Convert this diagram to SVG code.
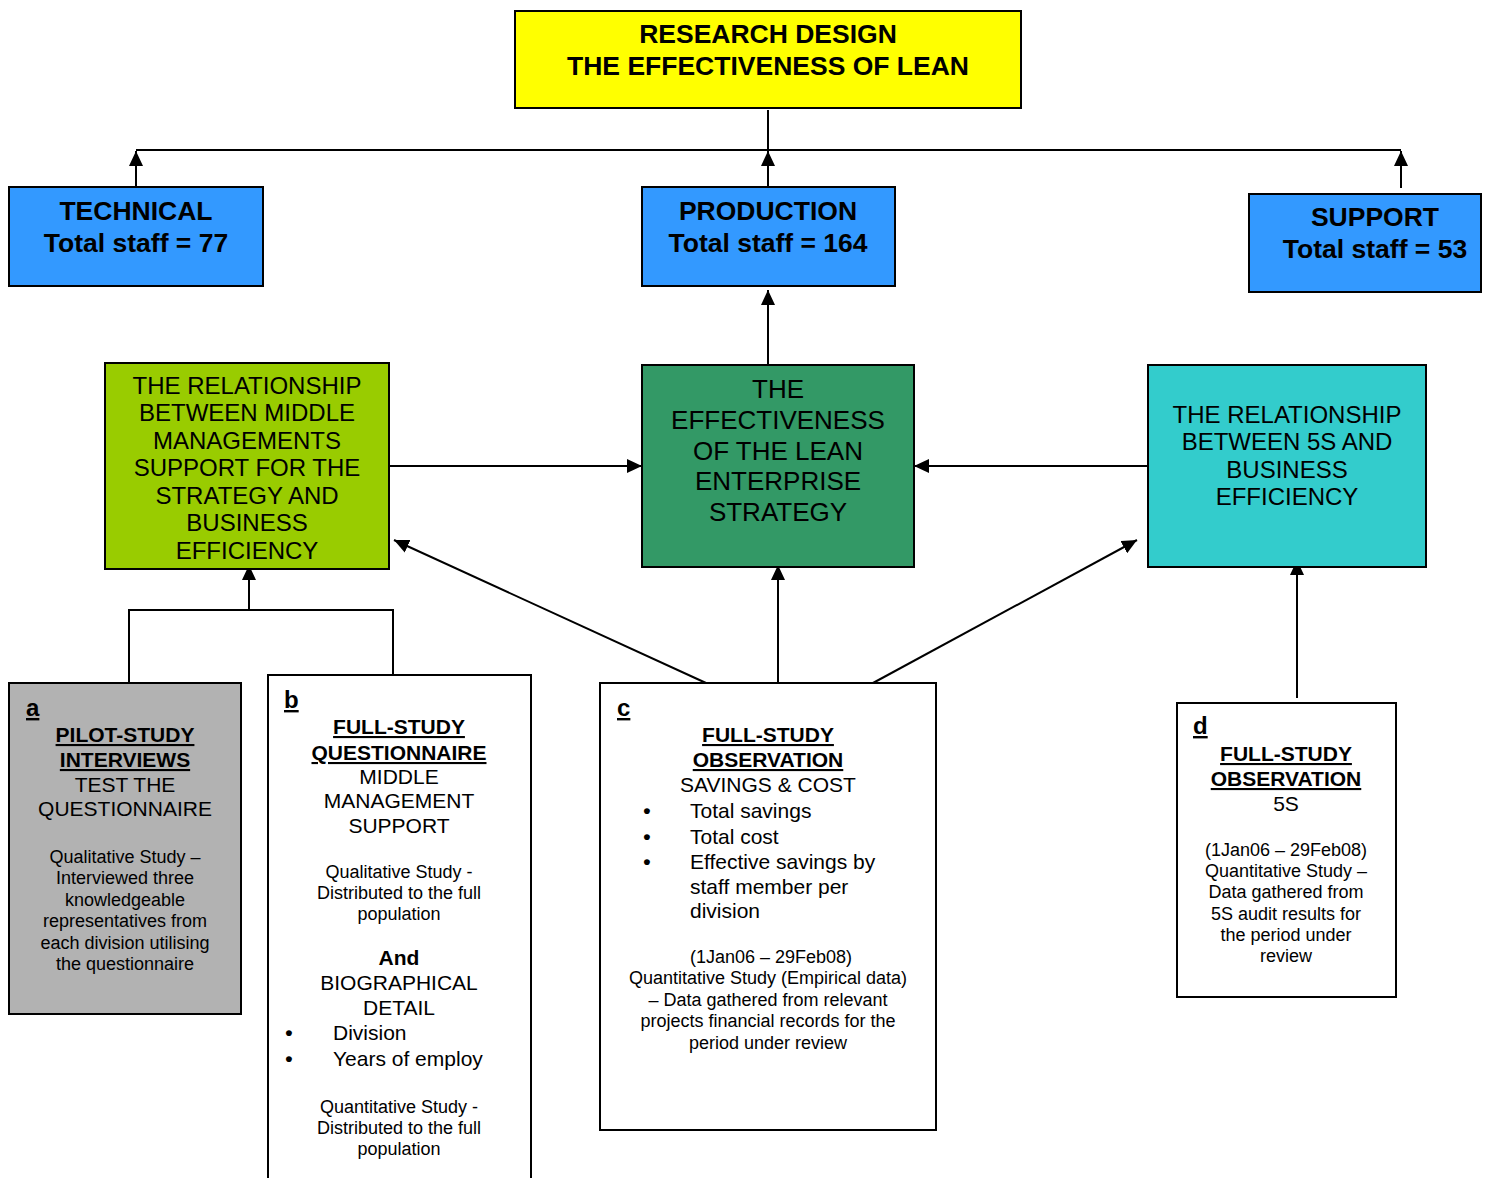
<svg xmlns="http://www.w3.org/2000/svg" width="1490" height="1178" viewBox="0 0 1490 1178">
<style>
text{font-family:"Liberation Sans",Arial,sans-serif;fill:#000;text-anchor:middle}
.box{stroke:#000;stroke-width:2}
.b{font-weight:bold}
.t26{font-size:26.5px;font-weight:bold}
.t24{font-size:24px}
.t26r{font-size:26px}
.t21{font-size:21px}
.t18{font-size:18px}
.lab{font-size:24px;font-weight:bold;text-decoration:underline;text-anchor:start}
.bul{font-size:21px;font-weight:bold;text-anchor:middle}
.u{text-decoration:underline}
.l{text-anchor:start}
.c{fill:none;stroke:#000;stroke-width:2}
</style>
<defs>
<marker id="ah" markerWidth="16" markerHeight="14" refX="15" refY="7" orient="auto" markerUnits="userSpaceOnUse">
<path d="M0,0 L15,7 L0,14 Z" fill="#000"/>
</marker>
</defs>
<rect width="1490" height="1178" fill="#fff"/>
<g id="connectors">
<path class="c" d="M768,110 V150"/>
<path class="c" d="M136,150 H1401"/>
<path class="c" d="M136,187 V151" marker-end="url(#ah)"/>
<path class="c" d="M768,187 V151" marker-end="url(#ah)"/>
<path class="c" d="M1401,188 V151" marker-end="url(#ah)"/>
<path class="c" d="M768,364 V290" marker-end="url(#ah)"/>
<path class="c" d="M390,466 H642" marker-end="url(#ah)"/>
<path class="c" d="M1148,466 H914" marker-end="url(#ah)"/>
<path class="c" d="M249,610 V565" marker-end="url(#ah)"/>
<path class="c" d="M129,683 V610 H393 V684"/>
<path class="c" d="M706,683 L394,540" marker-end="url(#ah)"/>
<path class="c" d="M778,683 V565" marker-end="url(#ah)"/>
<path class="c" d="M873,683 L1137,540" marker-end="url(#ah)"/>
<path class="c" d="M1297,698 V560" marker-end="url(#ah)"/>
</g>
<g id="research-design">
<rect class="box" x="515" y="11" width="506" height="97" fill="#ffff00"/>
<text class="t26" x="768" y="43">RESEARCH DESIGN</text>
<text class="t26" x="768" y="75">THE EFFECTIVENESS OF LEAN</text>
</g>
<g id="technical">
<rect class="box" x="9" y="187" width="254" height="99" fill="#3399ff"/>
<text class="t26" x="136" y="220">TECHNICAL</text>
<text class="t26" x="136" y="252">Total staff = 77</text>
</g>
<g id="production">
<rect class="box" x="642" y="187" width="253" height="99" fill="#3399ff"/>
<text class="t26" x="768" y="220">PRODUCTION</text>
<text class="t26" x="768" y="252">Total staff = 164</text>
</g>
<g id="support">
<rect class="box" x="1249" y="194" width="232" height="98" fill="#3399ff"/>
<text class="t26" x="1375" y="226">SUPPORT</text>
<text class="t26" x="1375" y="258">Total staff = 53</text>
</g>
<g id="middle-management">
<rect class="box" x="105" y="363" width="284" height="206" fill="#99cc00"/>
<text class="t24" x="247" y="394">THE RELATIONSHIP</text>
<text class="t24" x="247" y="421">BETWEEN MIDDLE</text>
<text class="t24" x="247" y="449">MANAGEMENTS</text>
<text class="t24" x="247" y="476">SUPPORT FOR THE</text>
<text class="t24" x="247" y="504">STRATEGY AND</text>
<text class="t24" x="247" y="531">BUSINESS</text>
<text class="t24" x="247" y="559">EFFICIENCY</text>
</g>
<g id="lean-strategy">
<rect class="box" x="642" y="365" width="272" height="202" fill="#339966"/>
<text class="t26r" x="778" y="398">THE</text>
<text class="t26r" x="778" y="429">EFFECTIVENESS</text>
<text class="t26r" x="778" y="460">OF THE LEAN</text>
<text class="t26r" x="778" y="490">ENTERPRISE</text>
<text class="t26r" x="778" y="521">STRATEGY</text>
</g>
<g id="5s-efficiency">
<rect class="box" x="1148" y="365" width="278" height="202" fill="#33cccc"/>
<text class="t24" x="1287" y="423">THE RELATIONSHIP</text>
<text class="t24" x="1287" y="450">BETWEEN 5S AND</text>
<text class="t24" x="1287" y="478">BUSINESS</text>
<text class="t24" x="1287" y="505">EFFICIENCY</text>
</g>
<g id="a-pilot">
<rect class="box" x="9" y="683" width="232" height="331" fill="#b2b2b2"/>
<text class="lab" x="26" y="716">a</text>
<text class="t21 b u" x="125" y="742">PILOT-STUDY</text>
<text class="t21 b u" x="125" y="767">INTERVIEWS</text>
<text class="t21" x="125" y="792">TEST THE</text>
<text class="t21" x="125" y="816">QUESTIONNAIRE</text>
<text class="t18" x="125" y="863">Qualitative Study –</text>
<text class="t18" x="125" y="884">Interviewed three</text>
<text class="t18" x="125" y="906">knowledgeable</text>
<text class="t18" x="125" y="927">representatives from</text>
<text class="t18" x="125" y="949">each division utilising</text>
<text class="t18" x="125" y="970">the questionnaire</text>
</g>
<g id="b-questionnaire">
<path class="box" d="M268,1179 V675 H531 V1179" fill="#fff"/>
<text class="lab" x="284" y="708">b</text>
<text class="t21 b u" x="399" y="734">FULL-STUDY</text>
<text class="t21 b u" x="399" y="760">QUESTIONNAIRE</text>
<text class="t21" x="399" y="784">MIDDLE</text>
<text class="t21" x="399" y="808">MANAGEMENT</text>
<text class="t21" x="399" y="833">SUPPORT</text>
<text class="t18" x="399" y="878">Qualitative Study -</text>
<text class="t18" x="399" y="899">Distributed to the full</text>
<text class="t18" x="399" y="920">population</text>
<text class="t21 b" x="399" y="965">And</text>
<text class="t21" x="399" y="990">BIOGRAPHICAL</text>
<text class="t21" x="399" y="1015">DETAIL</text>
<text class="bul" x="289" y="1040">•</text>
<text class="t21 l" x="333" y="1040">Division</text>
<text class="bul" x="289" y="1066">•</text>
<text class="t21 l" x="333" y="1066">Years of employ</text>
<text class="t18" x="399" y="1113">Quantitative Study -</text>
<text class="t18" x="399" y="1134">Distributed to the full</text>
<text class="t18" x="399" y="1155">population</text>
</g>
<g id="c-observation">
<rect class="box" x="600" y="683" width="336" height="447" fill="#fff"/>
<text class="lab" x="617" y="716">c</text>
<text class="t21 b u" x="768" y="742">FULL-STUDY</text>
<text class="t21 b u" x="768" y="767">OBSERVATION</text>
<text class="t21" x="768" y="792">SAVINGS &amp; COST</text>
<text class="bul" x="647" y="818">•</text>
<text class="t21 l" x="690" y="818">Total savings</text>
<text class="bul" x="647" y="844">•</text>
<text class="t21 l" x="690" y="844">Total cost</text>
<text class="bul" x="647" y="869">•</text>
<text class="t21 l" x="690" y="869">Effective savings by</text>
<text class="t21 l" x="690" y="894">staff member per</text>
<text class="t21 l" x="690" y="918">division</text>
<text class="t18" x="771" y="963">(1Jan06 – 29Feb08)</text>
<text class="t18" x="768" y="984">Quantitative Study (Empirical data)</text>
<text class="t18" x="768" y="1006">– Data gathered from relevant</text>
<text class="t18" x="768" y="1027">projects financial records for the</text>
<text class="t18" x="768" y="1049">period under review</text>
</g>
<g id="d-observation">
<rect class="box" x="1177" y="703" width="219" height="294" fill="#fff"/>
<text class="lab" x="1193" y="734">d</text>
<text class="t21 b u" x="1286" y="761">FULL-STUDY</text>
<text class="t21 b u" x="1286" y="786">OBSERVATION</text>
<text class="t21" x="1286" y="811">5S</text>
<text class="t18" x="1286" y="856">(1Jan06 – 29Feb08)</text>
<text class="t18" x="1286" y="877">Quantitative Study –</text>
<text class="t18" x="1286" y="898">Data gathered from</text>
<text class="t18" x="1286" y="920">5S audit results for</text>
<text class="t18" x="1286" y="941">the period under</text>
<text class="t18" x="1286" y="962">review</text>
</g>
</svg>
